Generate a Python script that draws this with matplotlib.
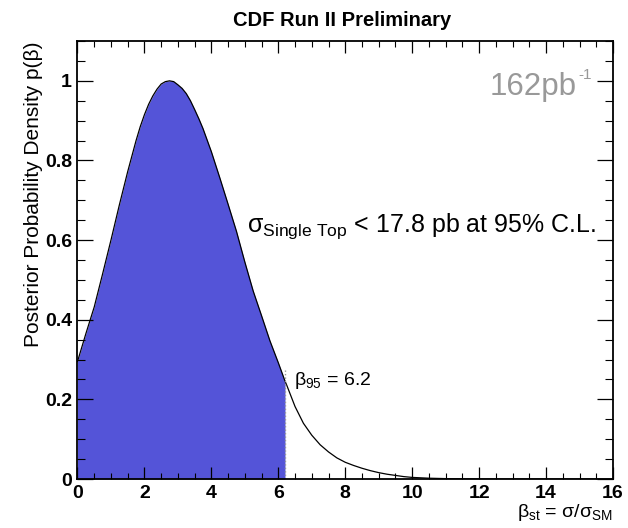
import matplotlib
matplotlib.use('Agg')
import matplotlib.pyplot as plt
import numpy as np
from matplotlib.ticker import MultipleLocator, FuncFormatter

plt.rcParams['font.family'] = ['Liberation Sans', 'DejaVu Sans']
plt.rcParams['mathtext.fontset'] = 'custom'
plt.rcParams['mathtext.rm'] = 'Liberation Sans'
plt.rcParams['mathtext.it'] = 'Liberation Sans:italic'
plt.rcParams['mathtext.bf'] = 'Liberation Sans:bold'

# ---- data ----
beta = [0.00, 0.25, 0.50, 0.75, 1.00, 1.25, 1.50, 1.75, 1.875, 2.00, 2.125, 2.25,
        2.375, 2.50, 2.625, 2.75, 2.875, 3.00, 3.125, 3.25, 3.375, 3.50, 3.625,
        3.75, 4.00, 4.25, 4.50, 4.75, 5.00, 5.25, 5.50, 5.75,
        6.00, 6.20, 6.25, 6.50, 6.75, 7.00, 7.25, 7.50, 7.75, 8.00, 8.25, 8.50,
        8.75, 9.00, 9.25, 9.50, 9.75, 10.0, 10.5, 11.0, 12.0, 16.0]
density = [0.295, 0.365, 0.432, 0.515, 0.600, 0.688, 0.772, 0.850, 0.885, 0.915,
           0.941, 0.962, 0.979, 0.992, 0.998, 1.000, 0.998, 0.990, 0.981, 0.968,
           0.950, 0.928, 0.905, 0.880, 0.822, 0.757, 0.690, 0.622,
           0.545, 0.472, 0.410, 0.347, 0.292, 0.246, 0.236, 0.182, 0.140, 0.110,
           0.086, 0.068, 0.053, 0.042, 0.034, 0.027, 0.021, 0.016, 0.012, 0.009,
           0.006, 0.004, 0.002, 0.001, 0.000, 0.000]
beta95 = 6.2
marker_top = 0.28

fill_color = '#5454d8'

fig = plt.figure(figsize=(6.28, 5.28), dpi=100)
ax = fig.add_axes([0.1234, 0.0928, 0.8527, 0.8295])

b = np.array(beta)
d = np.array(density)
mask = b <= beta95
ax.fill_between(b[mask], d[mask], 0, color=fill_color, lw=0)
ax.plot(b, d, color='black', lw=0.9, solid_joinstyle='round')
ax.vlines(beta95, 0, marker_top, linestyles=(0, (1, 1.5)), colors='#999999', lw=1.0)

ax.set_xlim(0, 16)
ax.set_ylim(0, 1.1)
ax.xaxis.set_major_locator(MultipleLocator(2))
ax.xaxis.set_minor_locator(MultipleLocator(0.5))
ax.yaxis.set_major_locator(MultipleLocator(0.2))
ax.yaxis.set_minor_locator(MultipleLocator(0.05))
ax.yaxis.set_major_formatter(FuncFormatter(lambda v, p: '{:g}'.format(round(v, 3))))
ax.xaxis.set_major_formatter(FuncFormatter(lambda v, p: '{:g}'.format(v)))

ax.tick_params(which='both', direction='in', top=True, right=True, colors='black')
ax.tick_params(axis='x', which='major', length=8.6, width=0.9, pad=4)
ax.tick_params(axis='x', which='minor', length=4.3, width=0.8)
ax.tick_params(axis='y', which='major', length=11.5, width=0.9, pad=4)
ax.tick_params(axis='y', which='minor', length=5.8, width=0.8)
for lab in ax.get_xticklabels() + ax.get_yticklabels():
    lab.set_fontweight('bold')
    lab.set_fontsize(14)
for s in ax.spines.values():
    s.set_linewidth(1.3)

fig.text(0.545, 0.962, 'CDF Run II Preliminary', ha='center', va='center',
         fontsize=14.5, fontweight='bold')

fig.text(0.053, 1 - 347 / 528, r'Posterior Probability Density p(β)', rotation=90,
         ha='center', va='bottom', fontsize=15)

fig.text(490 / 628, 1 - 95 / 528, '162pb', ha='left', va='baseline',
         fontsize=22.5, color='#999999')
fig.text(578 / 628, 1 - 79 / 528, '-1', ha='left', va='baseline',
         fontsize=11, color='#999999')

fig.text(247 / 628, 1 - 232 / 528, r'σ$_{\mathrm{Single\ Top}}$ < 17.8 pb at 95% C.L.',
         ha='left', va='baseline', fontsize=18)

ax.text(6.46, 0.236, r'β$_{95}$ = 6.2', ha='left', va='baseline', fontsize=14)

fig.text(613 / 628, 1 - 517 / 528, r'β$_{\mathrm{st}}$ = σ/σ$_{\mathrm{SM}}$',
         ha='right', va='baseline', fontsize=14)

fig.savefig('out.png', dpi=100)
